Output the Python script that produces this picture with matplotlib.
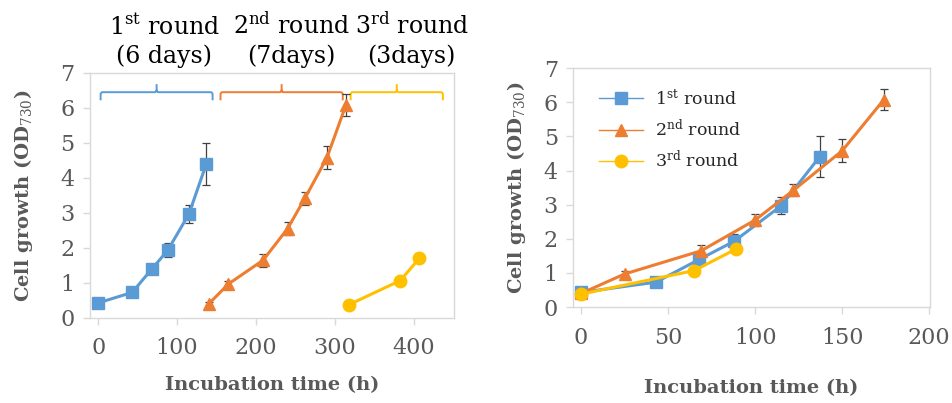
import numpy as np
import matplotlib.pyplot as plt
from matplotlib.path import Path
from matplotlib.patches import PathPatch

# growth data per round (time since start of round, OD730, error)
r1_t = [0, 43, 68, 88, 115, 137]
r1_od = [0.43, 0.73, 1.40, 1.93, 2.97, 4.40]
r1_err = [0.05, 0.08, 0.08, 0.20, 0.25, 0.60]

r2_t = [0, 25, 69, 100, 122, 150, 174]
r2_od = [0.40, 0.97, 1.65, 2.55, 3.42, 4.58, 6.08]
r2_err = [0.05, 0.10, 0.18, 0.18, 0.18, 0.33, 0.32]

r3_t = [0, 65, 89]
r3_od = [0.38, 1.07, 1.70]
r3_err = [0.03, 0.05, 0.05]

# start of each round on the cumulative time axis
starts = [0, 140, 318]
labels = ["1$^{\\rm st}$ round", "2$^{\\rm nd}$ round", "3$^{\\rm rd}$ round"]
headers = ["1$^{\\rm st}$ round\n(6 days)", "2$^{\\rm nd}$ round\n(7days)",
           "3$^{\\rm rd}$ round\n(3days)"]
# brace spans (h) on the cumulative axis
brace_lo = [3, 155, 320]
brace_hi = [145, 310, 437]
header_shift = [10, 12, 19]

colors = ["#5B9BD5", "#ED7D31", "#FFC000"]
markers = ["s", "^", "o"]
gray = "#595959"

plt.rcParams["font.family"] = "DejaVu Serif"
plt.rcParams["mathtext.fontset"] = "dejavuserif"

fig = plt.figure(figsize=(9.52, 4.03), dpi=100)
ax1 = fig.add_axes([0.0945, 0.211, 0.382, 0.608])
ax2 = fig.add_axes([0.602, 0.238, 0.375, 0.593])

series = [(r1_t, r1_od, r1_err), (r2_t, r2_od, r2_err), (r3_t, r3_od, r3_err)]


def style(ax, lpad):
    for s in ax.spines.values():
        s.set_color("#D9D9D9")
        s.set_linewidth(1.0)
    ax.tick_params(colors="#D9D9D9", labelcolor=gray, labelsize=16,
                   length=5, width=1)
    ax.tick_params(axis="x", pad=9)
    ax.tick_params(axis="y", pad=6)
    ax.set_ylim(0, 7)
    ax.set_yticks(range(8))
    ax.set_ylabel("Cell growth (OD$_{730}$)", fontsize=14, fontweight="bold",
                  color=gray)
    ax.set_xlabel("Incubation time (h)", fontsize=14, fontweight="bold",
                  color=gray, labelpad=lpad)


handles = []
for (t, od, err), st, c, m in zip(series, starts, colors, markers):
    x = np.array(t) + st
    ax1.errorbar(x, od, yerr=err, color=c, marker=m, ms=9, lw=2.2,
                 ecolor="#404040", elinewidth=0.9, capsize=3, capthick=0.9)
    eb = ax2.errorbar(t, od, yerr=err, color=c, marker=m, ms=9, lw=2.2,
                      ecolor="#404040", elinewidth=0.9, capsize=3, capthick=0.9)
    handles.append(eb[0])

style(ax1, 12)
ax1.set_xlim(-10.5, 450.6)
ax1.set_xticks([0, 100, 200, 300, 400])
ax1.yaxis.set_label_coords(-0.15, 0.5)

style(ax2, 22)
ax2.set_xlim(-4.6, 200.5)
ax2.set_xticks([0, 50, 100, 150, 200])
ax2.yaxis.set_label_coords(-0.125, 0.5)

# braces marking each round
for lo, hi, c, hdr, sh in zip(brace_lo, brace_hi, colors, headers, header_shift):
    mid = (lo + hi) / 2
    y0, yb, yt = 6.45, 6.22, 6.68
    r = 2.5
    verts = [(lo, yb), (lo, y0 - 0.07), (lo, y0), (lo + r, y0),
             (mid - r, y0), (mid, y0), (mid, y0 + 0.07), (mid, yt),
             (mid, y0 + 0.07), (mid, y0), (mid + r, y0), (hi - r, y0),
             (hi, y0), (hi, y0 - 0.07), (hi, yb)]
    codes = [Path.MOVETO, Path.LINETO, Path.CURVE3, Path.CURVE3,
             Path.LINETO, Path.CURVE3, Path.CURVE3, Path.LINETO,
             Path.MOVETO, Path.CURVE3, Path.CURVE3, Path.LINETO,
             Path.CURVE3, Path.CURVE3, Path.LINETO]
    ax1.add_patch(PathPatch(Path(verts, codes), fill=False, edgecolor=c,
                            lw=1.4, clip_on=False))
    ax1.text(mid + sh, 7.29, hdr, ha="center", va="baseline", fontsize=17,
             color="black", linespacing=1.3)

leg = ax2.legend(handles, labels, loc="upper left", bbox_to_anchor=(0.03, 0.98),
                 frameon=False, fontsize=12.5, handlelength=2.5,
                 labelspacing=0.58, handletextpad=0.7)
for txt in leg.get_texts():
    txt.set_color("#262626")
for h in leg.legend_handles:
    h.set_linewidth(1)

fig.savefig("out.png", dpi=100)
